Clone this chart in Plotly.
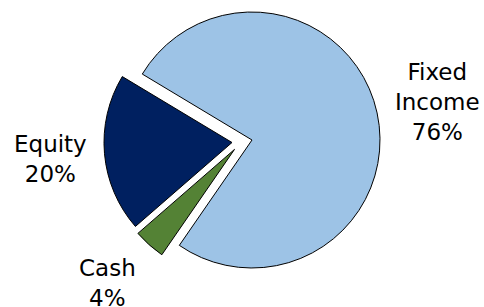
import plotly.graph_objects as go

# ---- data ----
categories = ["Fixed Income", "Cash", "Equity"]
shares = [76, 4, 20]  # percent
colors = ["#9DC3E6", "#548235", "#002060"]

# ---- layout constants ----
W, H = 484, 307
R = 128                 # pie radius in px
CX, CY = 252, 140       # pie centre in px (from top-left)
ROTATION = -59          # start angle of first slice (clockwise from 12 o'clock)
# explode offsets (px) of each slice
offsets = {"Fixed Income": (0, 0), "Cash": (-17.5, 9.4), "Equity": (-20, 2.5)}
# label centres (px)
label_pos = {"Fixed Income": (437, 102), "Cash": (107, 283), "Equity": (50, 158.5)}
FONT = dict(family="Verdana, DejaVu Sans, sans-serif", size=23, color="#000000")

fig = go.Figure()
for idx, cat in enumerate(categories):
    dx, dy = offsets[cat]
    cx, cy = CX + dx, CY + dy
    dom_x = [(cx - R) / W, (cx + R) / W]
    dom_y = [1 - (cy + R) / H, 1 - (cy - R) / H]
    slice_colors = [colors[j] if j == idx else "rgba(0,0,0,0)" for j in range(len(categories))]
    line_w = [1 if j == idx else 0 for j in range(len(categories))]
    fig.add_trace(go.Pie(
        labels=categories,
        values=shares,
        sort=False,
        direction="clockwise",
        rotation=ROTATION,
        marker=dict(colors=slice_colors, line=dict(color="#000000", width=line_w)),
        textinfo="none",
        hoverinfo="skip",
        showlegend=False,
        domain=dict(x=dom_x, y=dom_y),
    ))

for cat, val in zip(categories, shares):
    lx, ly = label_pos[cat]
    fig.add_annotation(
        text=cat.replace(" ", "<br>") + f"<br>{val}%",
        x=lx / W, y=1 - ly / H, xref="paper", yref="paper",
        xanchor="center", yanchor="middle", showarrow=False,
        align="center", font=FONT,
    )

fig.update_layout(
    width=W, height=H,
    margin=dict(l=0, r=0, t=0, b=0),
    paper_bgcolor="white", plot_bgcolor="white",
)

fig.write_html(
    "out.html",
    config={"displayModeBar": False},
    post_script="document.body.style.margin='0px';",
)
